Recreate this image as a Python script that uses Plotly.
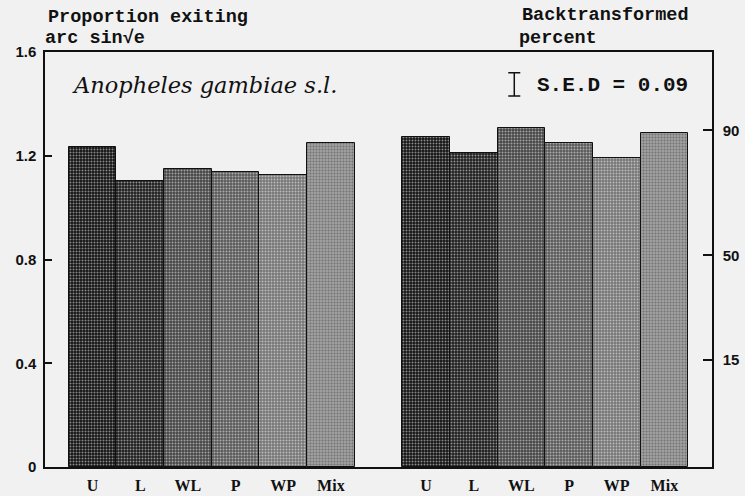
import math
import plotly.graph_objects as go

# Proportion of Anopheles gambiae s.l. exiting, on the arc sine sqrt scale
treatments = ["U", "L", "WL", "P", "WP", "Mix"]
group1_values = [1.232, 1.101, 1.148, 1.139, 1.127, 1.249]
group2_values = [1.272, 1.210, 1.307, 1.249, 1.192, 1.287]
sed = 0.09

# Backtransformed percent ticks for the right-hand axis
percent_ticks = [15, 50, 90]

# Halftone-like shades, darkest to lightest, one per treatment
shades = ["#141414", "#1e1e1e", "#464646", "#5a5a5a", "#767676", "#a0a0a0"]
dots = ["#383838", "#404040", "#6a6a6a", "#7e7e7e", "#969696", "#c2c2c2"]

x1 = list(range(1, 7))
x2 = list(range(8, 14))

fig = go.Figure()

for xs, vals in ((x1, group1_values), (x2, group2_values)):
    fig.add_trace(go.Bar(
        x=xs, y=vals, width=1.0,
        marker=dict(
            color=shades,
            line=dict(color="#111111", width=1),
            pattern=dict(shape=".", size=3, solidity=0.35,
                         fgcolor=dots, fillmode="overlay"),
        ),
        showlegend=False, hoverinfo="skip",
    ))

# S.E.D indicator bar
fig.add_trace(go.Scatter(
    x=[9.85], y=[1.475], mode="markers",
    marker=dict(size=1, color="rgba(0,0,0,0)"),
    error_y=dict(type="constant", value=sed / 2, color="#111111",
                 thickness=1.5, width=6),
    showlegend=False, hoverinfo="skip",
))

# Invisible trace tying the right-hand axis in
fig.add_trace(go.Scatter(x=[0], y=[0], yaxis="y2", mode="markers",
                         marker=dict(opacity=0), showlegend=False,
                         hoverinfo="skip"))

right_tickvals = [math.asin(math.sqrt(p / 100)) for p in percent_ticks]
right_ticktext = [f"<b>{p}</b>" for p in percent_ticks]
left_tickvals = [0, 0.4, 0.8, 1.2, 1.6]
left_ticktext = [f"<b>{v:g}</b>" for v in left_tickvals]

tick_font = dict(family="Liberation Sans", size=15, color="#111111")

fig.update_layout(
    width=745, height=496,
    margin=dict(l=45, r=33, t=52, b=29),
    paper_bgcolor="#f1f1f1", plot_bgcolor="#f1f1f1",
    bargap=0,
    xaxis=dict(
        range=[0, 14], automargin=False,
        tickvals=x1 + x2,
        ticktext=[f"<b>{t}</b>" for t in treatments + treatments],
        ticks="", showgrid=False, zeroline=False,
        showline=True, linecolor="#111111", linewidth=1.5, mirror=True,
        tickfont=dict(family="Liberation Serif", size=16, color="#111111"),
        ticklabelstandoff=3,
    ),
    yaxis=dict(
        range=[0, 1.6], automargin=False,
        tickvals=left_tickvals, ticktext=left_ticktext,
        ticks="inside", ticklen=7, tickwidth=1.5, tickcolor="#111111",
        showgrid=False, zeroline=False,
        showline=True, linecolor="#111111", linewidth=1.5,
        tickfont=tick_font, ticklabelstandoff=4,
    ),
    yaxis2=dict(
        overlaying="y", side="right",
        range=[0, 1.54], automargin=False,
        tickvals=right_tickvals, ticktext=right_ticktext,
        ticks="inside", ticklen=9, tickwidth=1.5, tickcolor="#111111",
        showgrid=False, zeroline=False,
        showline=True, linecolor="#111111", linewidth=1.5,
        tickfont=tick_font, ticklabelstandoff=6,
    ),
)

title_font = dict(family="Liberation Mono", size=18.5, color="#111111")
annotations = [
    dict(text="<b>Proportion exiting</b>", x=47, y=17, font=title_font),
    dict(text="<b>arc sin√e</b>", x=44, y=39, font=title_font),
    dict(text="<b>Backtransformed</b>", x=521, y=16, font=title_font),
    dict(text="<b>percent</b>", x=518, y=38, font=title_font),
    dict(text="<i>Anopheles gambiae s.l.</i>", x=71, y=85,
         font=dict(family="DejaVu Serif", size=22.5, color="#111111")),
    dict(text="<b>S.E.D = 0.09</b>", x=536, y=85,
         font=dict(family="Liberation Mono", size=21, color="#111111")),
]

# Text placed in pixel coordinates converted to paper units
plot_l, plot_r, plot_t, plot_b = 45, 712, 52, 467
for a in annotations:
    fig.add_annotation(
        text=a["text"],
        xref="paper", yref="paper",
        x=(a["x"] - plot_l) / (plot_r - plot_l),
        y=(plot_b - a["y"]) / (plot_b - plot_t),
        xanchor="left", yanchor="middle",
        showarrow=False, font=a["font"], borderpad=0,
    )

fig.write_html("out.html")
